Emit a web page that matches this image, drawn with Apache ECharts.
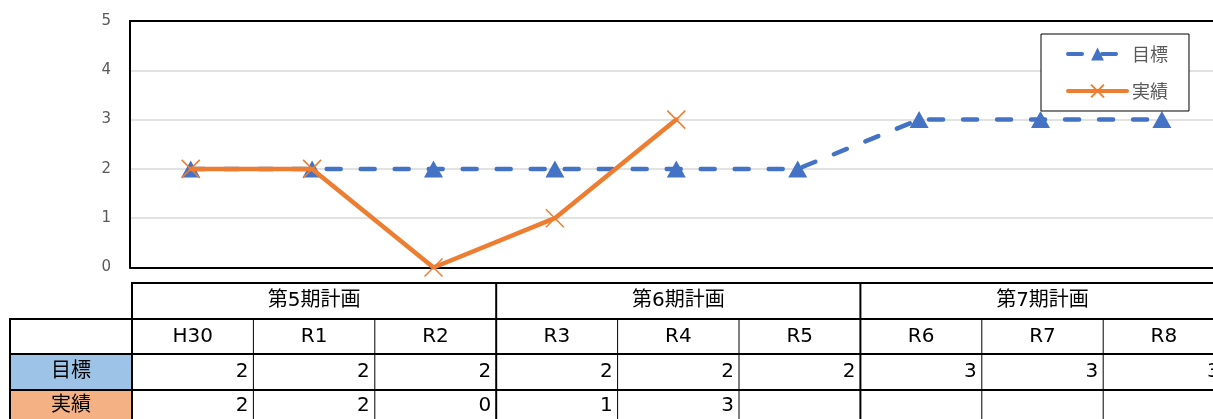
<!DOCTYPE html>
<html>
<head>
<meta charset="utf-8">
<script src="https://cdn.jsdelivr.net/npm/echarts@6/dist/echarts.min.js"></script>
<style>
  html, body { margin: 0; padding: 0; background: #fff; }
  #chart { width: 1213px; height: 419px; }
</style>
</head>
<body>
<div id="chart"></div>
<script>
// Fiscal years and plan periods
const categories = ['H30', 'R1', 'R2', 'R3', 'R4', 'R5', 'R6', 'R7', 'R8'];
const planPeriods = ['第5期計画', '第6期計画', '第7期計画'];
const yearsPerPeriod = 3;

// Series values (null = not yet recorded)
const targetName = '目標';
const actualName = '実績';
const targetValues = [2, 2, 2, 2, 2, 2, 3, 3, 3];
const actualValues = [2, 2, 0, 1, 3, null, null, null, null];

// Value axis ticks
const yTicks = { min: 0, max: 5, interval: 1 };

const FONT = '"DejaVu Sans", "Noto Sans CJK JP", sans-serif';
const CJK = '"Noto Sans CJK JP", sans-serif';
const BLUE = '#4472C4';
const ORANGE = '#ED7D31';
const crossPath = 'path://M0,0L10,10M10,0L0,10';

const chart = echarts.init(document.getElementById('chart'), null, { renderer: 'canvas' });

const frameAxis = {
  type: 'category',
  data: categories,
  boundaryGap: true,
  axisLine: { show: true, lineStyle: { color: '#000', width: 2 } },
  axisTick: { show: false },
  axisLabel: { show: false },
  splitLine: { show: false }
};

chart.setOption({
  animation: false,
  backgroundColor: '#fff',
  grid: {
    left: 130, top: 21, width: 1092.6, height: 246.5,
    outerBoundsMode: 'none',
    containLabel: false,
    show: false
  },
  legend: {
    orient: 'vertical',
    left: 1041, top: 34,
    padding: [11, 21, 11, 25],
    itemWidth: 59, itemHeight: 16, itemGap: 19,
    borderColor: '#000', borderWidth: 1, backgroundColor: '#fff',
    lineStyle: { width: 4, cap: 'round' },
    textStyle: { color: '#595959', fontSize: 18, fontFamily: CJK },
    data: [targetName, actualName]
  },
  xAxis: [
    Object.assign({ position: 'bottom' }, frameAxis),
    // top frame edge of the plot area
    Object.assign({ position: 'top' }, frameAxis)
  ],
  yAxis: {
    type: 'value',
    min: yTicks.min, max: yTicks.max, interval: yTicks.interval,
    axisLine: { show: true, lineStyle: { color: '#000', width: 2 } },
    axisTick: { show: false },
    axisLabel: { color: '#595959', fontSize: 15, fontFamily: FONT, margin: 19 },
    splitLine: { show: true, lineStyle: { color: '#D9D9D9', width: 1.5 } }
  },
  series: [
    {
      name: targetName,
      type: 'line',
      data: targetValues,
      symbol: 'triangle',
      symbolSize: [19, 17],
      itemStyle: { color: BLUE },
      lineStyle: { color: BLUE, width: 4.5, type: [14, 20], cap: 'round' },
      z: 2
    },
    {
      name: actualName,
      type: 'line',
      data: actualValues,
      symbol: crossPath,
      symbolSize: 18,
      connectNulls: false,
      itemStyle: { color: ORANGE, borderColor: ORANGE, borderWidth: 1.5 },
      lineStyle: { color: ORANGE, width: 4.5, cap: 'round', join: 'round' },
      z: 3
    }
  ]
});

// Data table under the plot, aligned to the category axis
(function drawTable() {
  const cx = i => chart.convertToPixel({ xAxisIndex: 0 }, i);
  const band = cx(1) - cx(0);
  const shift = 2;
  const edge = k => cx(0) - band / 2 + k * band + shift;
  const rows = [283, 319, 354, 390, 426];
  const leftX = 10;
  const els = [];

  const line = (x1, y1, x2, y2, w) => els.push({
    type: 'line', silent: true, z: 10,
    shape: { x1, y1, x2, y2 },
    style: { stroke: '#000', lineWidth: w }
  });
  const text = (str, x, y, align) => els.push({
    type: 'text', silent: true, z: 11,
    x, y,
    style: {
      text: str, fill: '#000', fontSize: 20, fontFamily: FONT,
      align: align, verticalAlign: 'middle'
    }
  });

  // Row header fills
  els.push({ type: 'rect', silent: true, z: 9,
    shape: { x: leftX, y: rows[2], width: edge(0) - leftX, height: rows[3] - rows[2] },
    style: { fill: '#9DC3E6' } });
  els.push({ type: 'rect', silent: true, z: 9,
    shape: { x: leftX, y: rows[3], width: edge(0) - leftX, height: rows[4] - rows[3] },
    style: { fill: '#F4B183' } });

  // Horizontal rules
  line(edge(0), rows[0], edge(categories.length) + 2, rows[0], 2);
  for (let r = 1; r <= 3; r++) line(leftX, rows[r], edge(categories.length) + 2, rows[r], 2);

  // Vertical rules
  line(leftX, rows[1] - 1, leftX, rows[4], 2);
  for (let k = 0; k <= categories.length; k++) {
    const thick = k % yearsPerPeriod === 0;
    line(edge(k), thick ? rows[0] - 1 : rows[1], edge(k), rows[4], thick ? 2 : 1);
  }

  // Plan period headers
  planPeriods.forEach((p, g) => {
    const x = (edge(g * yearsPerPeriod) + edge((g + 1) * yearsPerPeriod)) / 2;
    text(p, x, (rows[0] + rows[1]) / 2, 'center');
  });

  // Year labels
  categories.forEach((c, i) => text(c, cx(i) + shift, (rows[1] + rows[2]) / 2, 'center'));

  // Row headers
  text(targetName, (leftX + edge(0)) / 2, (rows[2] + rows[3]) / 2, 'center');
  text(actualName, (leftX + edge(0)) / 2, (rows[3] + rows[4]) / 2 - 2, 'center');

  // Values, right-aligned in their cells
  targetValues.forEach((v, i) => {
    if (v != null) text(String(v), edge(i + 1) - 5, (rows[2] + rows[3]) / 2, 'right');
  });
  actualValues.forEach((v, i) => {
    if (v != null) text(String(v), edge(i + 1) - 5, (rows[3] + rows[4]) / 2 - 2, 'right');
  });

  chart.setOption({ graphic: { elements: els } });
})();
</script>
</body>
</html>
